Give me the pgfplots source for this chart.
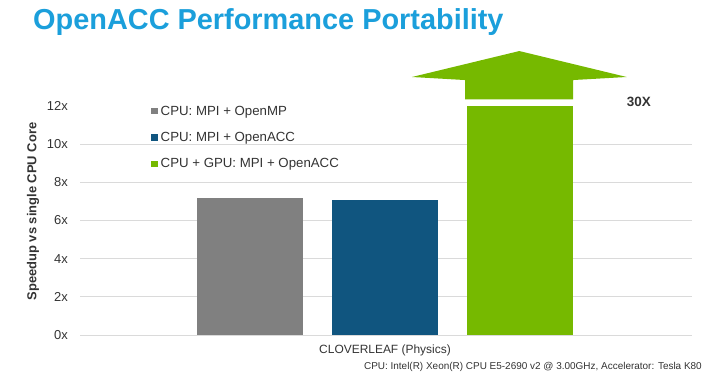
\documentclass[border=0pt]{standalone}
\usepackage{fontspec}
\setmainfont{Liberation Sans}
\usepackage{pgfplots}
\pgfplotsset{compat=1.18}
\definecolor{cgray}{HTML}{808080}
\definecolor{cblue}{HTML}{10557F}
\definecolor{cgreen}{HTML}{76B900}
\definecolor{ctitle}{HTML}{1B9FDB}
\definecolor{ctext}{HTML}{333333}
\definecolor{cgrid}{HTML}{DADADA}
\pgfplotsset{
  mybar/.style={ybar, bar width=0.785, bar shift=0pt, draw=none,
    legend image code/.code={\fill[##1] (0bp,-3.2bp) rectangle (6.5bp,3.2bp);}},
}
\begin{document}
\begin{tikzpicture}
\path[use as bounding box] (-80bp,-54bp) rectangle (628bp,335bp);
\begin{axis}[
  scale only axis, width=612bp, height=229bp,
  xmin=-0.259, xmax=4.274, ymin=0, ymax=12,
  axis line style={draw=none},
  major tick length=0pt,
  ytick={0,2,4,6,8,10},
  yticklabels={0x,2x,4x,6x,8x,10x},
  extra y ticks={12}, extra y tick labels={12x},
  extra y tick style={grid=none},
  ymajorgrids, grid style={cgrid, line width=0.9bp},
  xtick={2}, xticklabels={CLOVERLEAF (Physics)},
  yticklabel style={anchor=east, inner sep=0pt, xshift=-12bp, font=\fontsize{13}{15}\selectfont, text=ctext},
  xticklabel style={anchor=center, yshift=-15bp, font=\fontsize{12}{14}\selectfont, text=ctext},
  clip=false,
  legend cell align=left,
  legend style={at={(rel axis cs:0.116,1.008)}, anchor=north west, draw=none, fill=none,
    font=\fontsize{13.3}{15}\selectfont, text=ctext, row sep=12.5bp, inner sep=0pt,
    nodes={inner ysep=1.5bp, inner xsep=3bp}},
]
\addplot[mybar, fill=cgray] coordinates {(1,7.16)};
\addlegendentry{CPU: MPI + OpenMP}
\addplot[mybar, fill=cblue] coordinates {(2,7.10)};
\addlegendentry{CPU: MPI + OpenACC}
\addplot[mybar, fill=cgreen] coordinates {(3,12.0)};
\addlegendentry{CPU + GPU: MPI + OpenACC}
\addplot[fill=cgreen, draw=none, forget plot] coordinates {
  (2.593,12.35) (2.593,13.36) (2.2,13.52) (2.995,14.88) (3.79,13.52) (3.393,13.36) (3.393,12.35)};
\node[font=\fontsize{13.5}{15}\bfseries, text=ctext] at (axis cs:3.881,12.21) {30X};
\end{axis}
\node[anchor=base west, inner sep=0pt, font=\fontsize{29}{33}\bfseries, text=ctitle] at (-47bp,305bp) {OpenACC Performance Portability};
\node[rotate=90, inner sep=0pt, font=\fontsize{13}{15}\bfseries, text=ctext] at (-47bp,123.5bp) {Speedup vs single CPU Core};
\node[anchor=east, inner sep=0pt, font=\fontsize{10}{12}\selectfont, text=ctext] at (622bp,-32bp) {CPU: Intel(R) Xeon(R) CPU E5-2690 v2 @ 3.00GHz, Accelerator: Tesla K80};
\end{tikzpicture}
\end{document}
